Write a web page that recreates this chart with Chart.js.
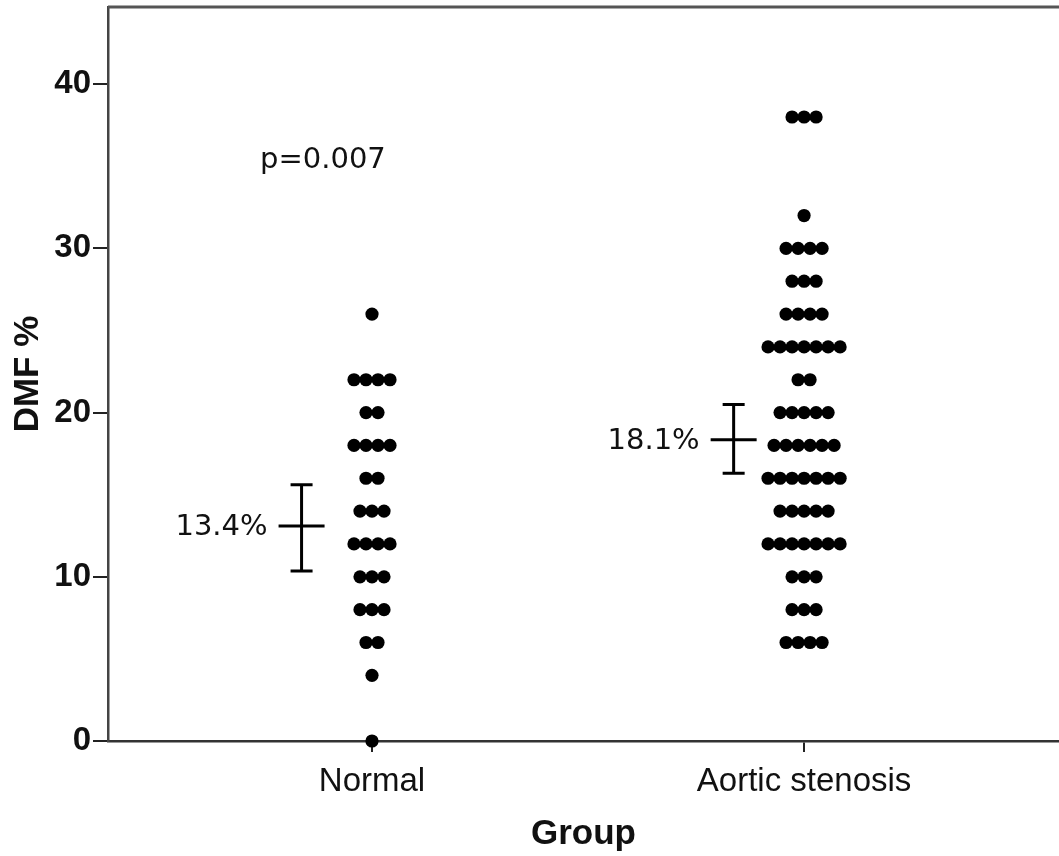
<!DOCTYPE html>
<html><head><meta charset="utf-8">
<script src="https://cdn.jsdelivr.net/npm/chart.js@4/dist/chart.umd.min.js"></script>
<style>html,body{margin:0;padding:0;background:#fff}#wrap{width:1059px;height:856px;position:relative}</style>
</head><body><div id="wrap"><canvas id="c" width="1059" height="856"></canvas></div>
<script>
// ---- data ----
const groups = ['Normal', 'Aortic stenosis'];
const normalValues = [26, 22,22,22,22, 20,20, 18,18,18,18, 16,16, 14,14,14, 12,12,12,12, 10,10,10, 8,8,8, 6,6, 4, 0];
const stenosisValues = [38,38,38, 32, 30,30,30,30, 28,28,28, 26,26,26,26, 24,24,24,24,24,24,24, 22,22,
  20,20,20,20,20, 18,18,18,18,18,18, 16,16,16,16,16,16,16, 14,14,14,14,14, 12,12,12,12,12,12,12,
  10,10,10, 8,8,8, 6,6,6,6];
const groupMeans = [13.1, 18.35];
const groupLower = [10.35, 16.3];
const groupUpper = [15.6, 20.5];
const meanLabels = ['13.4%', '18.1%'];
const pValueText = 'p=0.007';
const yTicks = [0, 10, 20, 30, 40];

// stack equal values side by side (dot plot)
function stackDots(values, groupPos, step) {
  const counts = {}, seen = {};
  values.forEach(v => counts[v] = (counts[v] || 0) + 1);
  return values.map(v => {
    const n = counts[v];
    const i = seen[v] || 0; seen[v] = i + 1;
    return {x: groupPos + (i - (n - 1) / 2) * step, y: v};
  });
}
const DOT_STEP = 0.0278;

const annot = {
  id: 'annot',
  afterDatasetsDraw(chart) {
    const {ctx, scales: {x, y}, chartArea} = chart;
    ctx.save();
    // top frame line
    ctx.strokeStyle = '#555'; ctx.lineWidth = 3;
    ctx.beginPath(); ctx.moveTo(chartArea.left, chartArea.top); ctx.lineTo(chart.width, chartArea.top); ctx.stroke();
    // error bars
    ctx.strokeStyle = '#000'; ctx.lineWidth = 3;
    ctx.fillStyle = '#111';
    ctx.font = '29px "DejaVu Sans"';
    ctx.textAlign = 'right'; ctx.textBaseline = 'middle';
    groups.forEach((g, i) => {
      const cx = x.getPixelForValue(i + 1 - 0.163);
      const ym = y.getPixelForValue(groupMeans[i]);
      const yl = y.getPixelForValue(groupLower[i]);
      const yu = y.getPixelForValue(groupUpper[i]);
      ctx.beginPath();
      ctx.moveTo(cx, yl); ctx.lineTo(cx, yu);
      ctx.moveTo(cx - 11, yl); ctx.lineTo(cx + 11, yl);
      ctx.moveTo(cx - 11, yu); ctx.lineTo(cx + 11, yu);
      ctx.moveTo(cx - 23, ym); ctx.lineTo(cx + 23, ym);
      ctx.stroke();
      ctx.fillText(meanLabels[i], cx - 34, ym + 2);
    });
    ctx.textAlign = 'left';
    ctx.fillText(pValueText, x.getPixelForValue(0.741), y.getPixelForValue(35.37));
    ctx.restore();
  }
};

new Chart(document.getElementById('c'), {
  type: 'scatter',
  data: {
    datasets: [
      {label: groups[0], data: stackDots(normalValues, 1, DOT_STEP), backgroundColor: '#000', borderWidth: 0, pointRadius: 6.6, clip: false},
      {label: groups[1], data: stackDots(stenosisValues, 2, DOT_STEP), backgroundColor: '#000', borderWidth: 0, pointRadius: 6.6, clip: false}
    ]
  },
  options: {
    responsive: false, animation: false,
    layout: {autoPadding: false, padding: {top: 7, right: 0, left: 0, bottom: 0}},
    plugins: {legend: {display: false}, tooltip: {enabled: false}},
    scales: {
      x: {
        type: 'linear', min: 0.389, max: 2.59,
        afterBuildTicks: s => { s.ticks = [{value: 1}, {value: 2}]; },
        afterFit: s => { s.height = 115; s.paddingLeft = 0; s.paddingRight = 0; },
        ticks: {callback: v => groups[Math.round(v) - 1], font: {family: 'Liberation Sans', size: 33}, color: '#111', padding: 10, maxRotation: 0, autoSkip: false},
        grid: {drawOnChartArea: false, drawTicks: true, tickLength: 11, color: '#222', lineWidth: 2},
        border: {color: '#333', width: 2.5},
        title: {display: true, text: 'Group', font: {family: 'Liberation Sans', size: 35, weight: 'bold'}, color: '#111', padding: {top: 0, bottom: 1}}
      },
      y: {
        min: 0, max: 44.7,
        afterBuildTicks: s => { s.ticks = yTicks.map(v => ({value: v})); },
        afterFit: s => { s.width = 108; s.paddingTop = 0; s.paddingBottom = 0; },
        ticks: {font: {family: 'Liberation Sans', size: 33, weight: 'bold'}, color: '#111', padding: 2},
        grid: {drawOnChartArea: false, drawTicks: true, tickLength: 15, color: '#222', lineWidth: 2},
        border: {color: '#444', width: 2.5},
        title: {display: true, text: 'DMF %', font: {family: 'Liberation Sans', size: 35, weight: 'bold'}, color: '#111', padding: {top: 7, bottom: 0}}
      }
    }
  },
  plugins: [annot]
});
</script></body></html>
